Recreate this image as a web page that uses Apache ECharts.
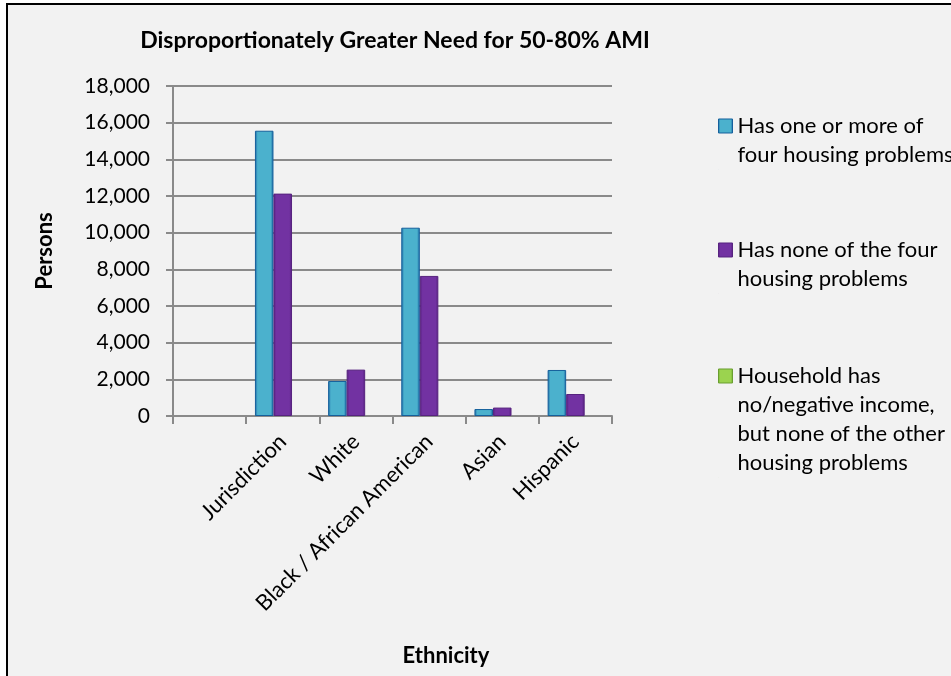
<!DOCTYPE html>
<html>
<head>
<meta charset="utf-8">
<script src="https://cdn.jsdelivr.net/npm/echarts@6/dist/echarts.min.js"></script>
<style>
html,body{margin:0;padding:0;background:#ffffff;}
#chart{width:951px;height:676px;}
</style>
</head>
<body>
<div id="chart"></div>
<script>
const categories = ['', 'Jurisdiction', 'White', 'Black / African American', 'Asian', 'Hispanic'];
const seriesNames = [
  'Has one or more of\nfour housing problems',
  'Has none of the four\nhousing problems',
  'Household has\nno/negative income,\nbut none of the other\nhousing problems'
];
const hasProblems = [null, 15560, 1910, 10270, 380, 2510];
const noProblems = [null, 12130, 2530, 7640, 460, 1200];
const noIncome = [null, 0, 0, 0, 0, 0];
const yTicks = [0, 2000, 4000, 6000, 8000, 10000, 12000, 14000, 16000, 18000];

const FONT = 'Lato, "Liberation Sans", sans-serif';
const LINE_H = 29;

function grad(edge, mid) {
  return new echarts.graphic.LinearGradient(0, 0, 1, 0, [
    { offset: 0, color: edge },
    { offset: 0.15, color: mid },
    { offset: 0.85, color: mid },
    { offset: 1, color: edge }
  ]);
}

const colors = [
  { fill: grad('#1a66a3', '#4bb1cd'), border: '#15609c' },
  { fill: grad('#55207f', '#7232a2'), border: '#57237f' },
  { fill: grad('#6fae2e', '#9bd34f'), border: '#6a9e30' }
];

// legend icon: square aligned with the first text line of a multi-line label
function iconFor(lines) {
  const h = lines * LINE_H;
  const c = LINE_H / 2;
  return 'path://M0,0h0.01v0.01h-0.01z M0,' + (c - 7) + 'h14v14h-14z M0,' + h + 'h0.01v0.01h-0.01z';
}

function legendFor(idx, top) {
  const lines = seriesNames[idx].split('\n').length;
  return {
    orient: 'vertical',
    left: 713,
    top: top,
    itemWidth: 14,
    itemHeight: lines * LINE_H,
    itemGap: 0,
    selectedMode: false,
    data: [{
      name: seriesNames[idx],
      icon: iconFor(lines),
      itemStyle: { color: colors[idx].fill, borderColor: colors[idx].border, borderWidth: 1 }
    }],
    textStyle: { fontFamily: FONT, fontSize: 22, color: '#000', lineHeight: LINE_H }
  };
}

const chart = echarts.init(document.getElementById('chart'), null, { renderer: 'canvas' });

chart.setOption({
  backgroundColor: '#f2f2f2',
  animation: false,
  title: [
    {
      text: 'Disproportionately Greater Need for 50-80% AMI',
      left: 390, top: 24, textAlign: 'center',
      textStyle: { fontFamily: FONT, fontWeight: 'bold', fontSize: 23, color: '#000' }
    },
    {
      text: 'Ethnicity',
      left: 441, top: 640, textAlign: 'center',
      textStyle: { fontFamily: FONT, fontWeight: 'bold', fontSize: 22, color: '#000' }
    }
  ],
  legend: [legendFor(0, 106), legendFor(1, 230), legendFor(2, 356)],
  grid: { left: 173, top: 86, width: 439, height: 330, containLabel: false },
  xAxis: {
    type: 'category',
    data: categories,
    axisLine: { lineStyle: { color: '#8a8a8a', width: 2 } },
    axisTick: { show: true, length: 8, lineStyle: { color: '#8a8a8a', width: 2 } },
    axisLabel: { interval: 0, rotate: 45, fontFamily: FONT, fontSize: 22, color: '#000', margin: 22 }
  },
  yAxis: {
    type: 'value',
    min: 0, max: 18000, interval: 2000,
    name: 'Persons',
    nameLocation: 'middle',
    nameGap: 117,
    nameRotate: 90,
    nameTextStyle: { fontFamily: FONT, fontWeight: 'bold', fontSize: 22, color: '#000' },
    axisLine: { show: true, lineStyle: { color: '#8a8a8a', width: 2 } },
    axisTick: { show: true, length: 7, lineStyle: { color: '#8a8a8a', width: 2 } },
    splitLine: { lineStyle: { color: '#8a8a8a', width: 2 } },
    axisLabel: {
      fontFamily: FONT, fontSize: 21, color: '#000', margin: 23,
      formatter: v => yTicks.includes(v) ? v.toLocaleString('en-US') : ''
    }
  },
  series: [
    {
      name: seriesNames[0], type: 'bar', data: hasProblems,
      barGap: '0%', barCategoryGap: '24%',
      itemStyle: { color: colors[0].fill, borderColor: colors[0].border, borderWidth: 1 }
    },
    {
      name: seriesNames[1], type: 'bar', data: noProblems,
      barGap: '0%', barCategoryGap: '24%',
      itemStyle: { color: colors[1].fill, borderColor: colors[1].border, borderWidth: 1 }
    },
    {
      name: seriesNames[2], type: 'bar', data: noIncome,
      barGap: '0%', barCategoryGap: '24%',
      itemStyle: { color: colors[2].fill, borderWidth: 0 }
    }
  ],
  graphic: [
    { type: 'rect', silent: true, z: 100, shape: { x: 0, y: 0, width: 6, height: 676 }, style: { fill: '#ffffff' } },
    { type: 'rect', silent: true, z: 100, shape: { x: 0, y: 0, width: 951, height: 3 }, style: { fill: '#ffffff' } },
    { type: 'rect', silent: true, z: 101, shape: { x: 6, y: 3, width: 2, height: 673 }, style: { fill: '#000000' } },
    { type: 'rect', silent: true, z: 101, shape: { x: 6, y: 3, width: 945, height: 2 }, style: { fill: '#000000' } }
  ]
});
</script>
</body>
</html>
